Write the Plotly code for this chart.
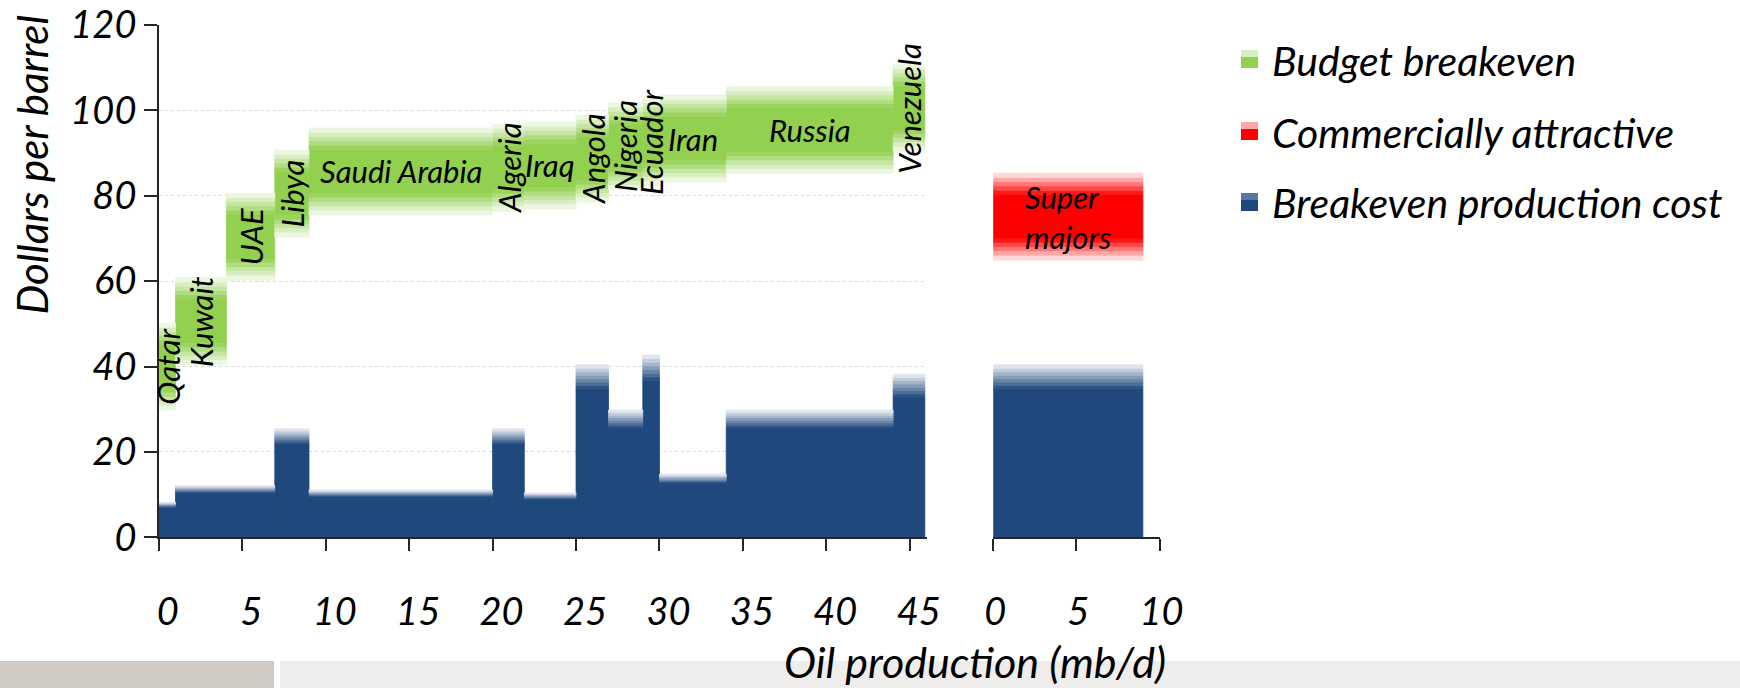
import plotly.graph_objects as go

# ---- data -----------------------------------------------------------------
countries = ["Qatar", "Kuwait", "UAE", "Libya", "Saudi Arabia", "Algeria", "Iraq",
             "Angola", "Nigeria", "Ecuador", "Iran", "Russia", "Venezuela"]
production_mbd = [1.0, 3.05, 2.9, 2.05, 11.0, 1.9, 3.1, 1.95, 2.05, 1.0, 4.0, 10.0, 1.9]
production_cost = [8.2, 12.1, 12.1, 25.4, 11.1, 25.4, 10.4, 40.4, 29.8, 42.7, 14.8, 29.8, 38.2]
budget_breakeven = [40.0, 50.6, 70.4, 80.5, 85.7, 86.6, 87.1, 88.7, 91.6, 92.6, 93.4, 95.4, 100.6]

majors_name = ["Super<br>majors"]
majors_production = [9.0]
majors_cost = [40.4]
majors_attractive = [75.1]

x_ticks_countries = [0, 5, 10, 15, 20, 25, 30, 35, 40, 45]
x_ticks_majors = [0, 5, 10]
y_ticks = [0, 20, 40, 60, 80, 100, 120]

legend_labels = ["Budget breakeven", "Commercially attractive", "Breakeven production cost"]

# ---- styling --------------------------------------------------------------
FONT = "Lato"
BLUE, BLUE_LIGHT = "#1f497d", "#eef1f6"
GREEN, GREEN_LIGHT = "#92d050", "#f6fbf1"
RED, RED_LIGHT = "#ff0000", "#fff0f0"
AXIS_COLOR = "#262626"
HORIZONTAL_LABELS = {"Saudi Arabia", "Iraq", "Iran", "Russia"}

COST_FADE = 0.14      # share of the cost bar that fades out at the top
COST_STEPS = 7
RANGE_HALF = 10.2     # half height of the breakeven band
RANGE_SOLID = 5.2     # half height of its solid core
RANGE_STEPS = 5

W, H = 1740, 688


def hex_rgb(h):
    h = h.lstrip("#")
    return tuple(int(h[i:i + 2], 16) for i in (0, 2, 4))


def mix(c1, c2, t):
    a, b = hex_rgb(c1), hex_rgb(c2)
    return "rgb(%d,%d,%d)" % tuple(round(a[i] + (b[i] - a[i]) * t) for i in range(3))


def px_x(p):
    return p / W


def px_y(p):
    return 1 - p / H


def layout_columns(widths):
    lefts, acc = [], 0.0
    for w in widths:
        lefts.append(acc)
        acc += w
    return [l + w / 2 for l, w in zip(lefts, widths)]


def bar(x, width, base, height, color, xa, ya):
    # outline in the fill colour hides hairline seams between neighbouring columns
    return go.Bar(x=x, width=width, base=base, y=height,
                  marker=dict(color=color, line=dict(width=0.8, color=color)),
                  xaxis=xa, yaxis=ya, showlegend=False, hoverinfo="skip")


def cost_bars(x, width, values, xa, ya):
    traces = [bar(x, width, [0] * len(values), [v * (1 - COST_FADE) for v in values], BLUE, xa, ya)]
    for k in range(COST_STEPS):
        step = [v * COST_FADE / COST_STEPS for v in values]
        base = [v * (1 - COST_FADE) + k * s for v, s in zip(values, step)]
        traces.append(bar(x, width, base, step, mix(BLUE, BLUE_LIGHT, (k + 0.5) / COST_STEPS), xa, ya))
    return traces


def range_bars(x, width, centers, color, light, xa, ya):
    n = len(centers)
    traces = [bar(x, width, [c - RANGE_SOLID for c in centers], [2 * RANGE_SOLID] * n, color, xa, ya)]
    step = (RANGE_HALF - RANGE_SOLID) / RANGE_STEPS
    for k in range(RANGE_STEPS):
        shade = mix(color, light, (k + 0.5) / RANGE_STEPS)
        traces.append(bar(x, width, [c + RANGE_SOLID + k * step for c in centers], [step] * n, shade, xa, ya))
        traces.append(bar(x, width, [c - RANGE_SOLID - (k + 1) * step for c in centers], [step] * n, shade, xa, ya))
    return traces


centers = layout_columns(production_mbd)
majors_centers = layout_columns(majors_production)

fig = go.Figure()
for t in range_bars(centers, production_mbd, budget_breakeven, GREEN, GREEN_LIGHT, "x", "y"):
    fig.add_trace(t)
for t in cost_bars(centers, production_mbd, production_cost, "x", "y"):
    fig.add_trace(t)
for t in range_bars(majors_centers, majors_production, majors_attractive, RED, RED_LIGHT, "x2", "y2"):
    fig.add_trace(t)
for t in cost_bars(majors_centers, majors_production, majors_cost, "x2", "y2"):
    fig.add_trace(t)

annotations = []
for name, cx, val in zip(countries, centers, budget_breakeven):
    annotations.append(dict(x=cx, y=val, xref="x", yref="y", text=name, showarrow=False,
                            textangle=0 if name in HORIZONTAL_LABELS else -90,
                            font=dict(family=FONT, size=31, style="italic", color="black")))
for name, cx, val in zip(majors_name, majors_centers, majors_attractive):
    annotations.append(dict(x=cx, y=val, xref="x2", yref="y2", text=name, showarrow=False, align="left",
                            font=dict(family=FONT, size=31, style="italic", color="black")))

# axis titles
annotations.append(dict(x=px_x(31.6), y=px_y(165), xref="paper", yref="paper", text="Dollars per barrel",
                        textangle=-90, showarrow=False, xanchor="center", yanchor="middle",
                        font=dict(family=FONT, size=42, style="italic", color="black")))
annotations.append(dict(x=px_x(975), y=px_y(661), xref="paper", yref="paper", text="Oil production (mb/d)",
                        showarrow=False, xanchor="center", yanchor="middle",
                        font=dict(family=FONT, size=43, style="italic", color="black")))

# footer band and legend
shapes = [
    dict(type="rect", xref="paper", yref="paper", x0=0, x1=px_x(274), y0=0, y1=px_y(661),
         fillcolor="#cfcbc4", line=dict(width=0), layer="below"),
    dict(type="rect", xref="paper", yref="paper", x0=px_x(280), x1=1, y0=0, y1=px_y(661),
         fillcolor="#efedeb", line=dict(width=0), layer="below"),
]
legend_swatches = [(GREEN, "#d7eec3", 59), (RED, "#ffa6a6", 131), (BLUE, "#5a77a1", 202)]
for label, (solid, light, cy) in zip(legend_labels, legend_swatches):
    shapes.append(dict(type="rect", xref="paper", yref="paper", x0=px_x(1241), x1=px_x(1258),
                       y0=px_y(cy + 9), y1=px_y(cy - 2), fillcolor=solid, line=dict(width=0)))
    shapes.append(dict(type="rect", xref="paper", yref="paper", x0=px_x(1241), x1=px_x(1258),
                       y0=px_y(cy - 2), y1=px_y(cy - 9), fillcolor=light, line=dict(width=0)))
    annotations.append(dict(x=px_x(1270), y=px_y(cy + 1), xref="paper", yref="paper", text=label,
                            showarrow=False, xanchor="left", yanchor="middle",
                            font=dict(family=FONT, size=41, style="italic", color="black")))

y_domain = [px_y(537.3), px_y(25)]
tick_font = dict(family=FONT, size=38, style="italic", color="black")
x_common = dict(ticks="outside", ticklen=12, tickwidth=1.5, tickcolor=AXIS_COLOR, showline=True,
                linecolor=AXIS_COLOR, linewidth=1.5, showgrid=False, zeroline=False, automargin=False,
                tickfont=tick_font, ticklabelstandoff=28, fixedrange=True)

fig.update_layout(
    width=W, height=H, margin=dict(l=0, r=0, t=0, b=0, autoexpand=False),
    paper_bgcolor="white", plot_bgcolor="white", barmode="overlay", showlegend=False,
    xaxis=dict(domain=[px_x(158.8), px_x(926.5)], range=[0, 46], tickvals=x_ticks_countries,
               anchor="y", ticklabelshift=9, **x_common),
    xaxis2=dict(domain=[px_x(993.2), px_x(1159.5)], range=[0, 10], tickvals=x_ticks_majors,
                anchor="y2", ticklabelshift=2, **x_common),
    yaxis=dict(domain=y_domain, range=[0, 120], tickvals=y_ticks, anchor="x", ticks="outside",
               ticklen=13, tickwidth=1.5, tickcolor=AXIS_COLOR, showline=True, linecolor=AXIS_COLOR,
               linewidth=1.5, showgrid=True, gridcolor="#d9d9d9", griddash="dot", gridwidth=1,
               zeroline=False, automargin=False, tickfont=tick_font, ticklabelstandoff=0,
               fixedrange=True),
    yaxis2=dict(domain=y_domain, range=[0, 120], anchor="x2", visible=False, fixedrange=True),
    annotations=annotations, shapes=shapes,
)

fig.write_html("out.html", post_script="document.body.style.margin='0';")
